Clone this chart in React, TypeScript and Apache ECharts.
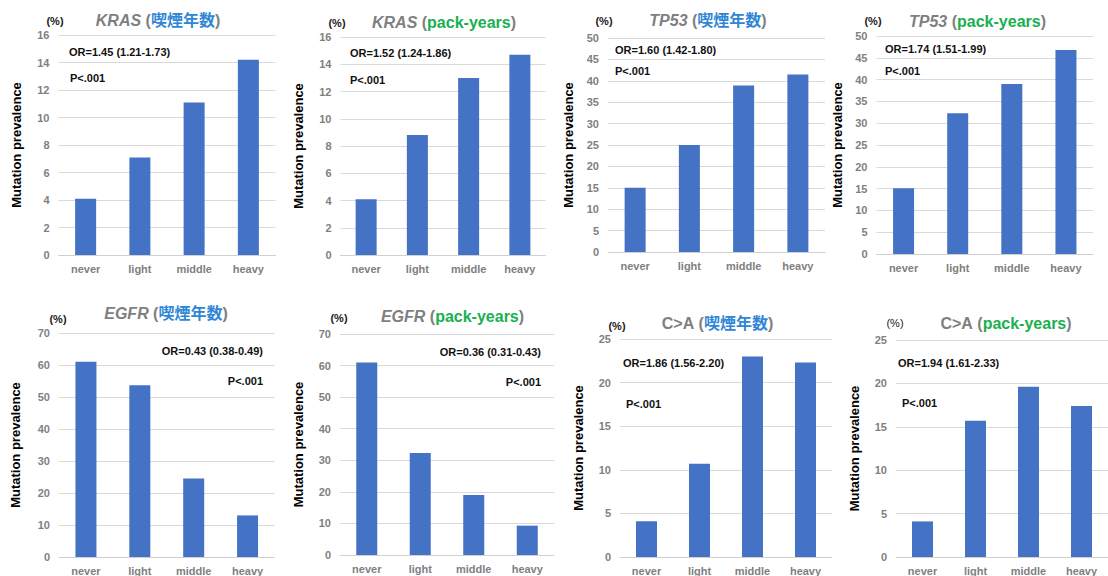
import React, { useEffect, useRef } from "react";
import * as echarts from "echarts";

const categories = ["never", "light", "middle", "heavy"];

const krasYears = [4.1, 7.1, 11.1, 14.2];
const krasPack = [4.1, 8.8, 13.0, 14.7];
const tp53Years = [15.0, 25.0, 38.9, 41.5];
const tp53Pack = [15.1, 32.3, 39.0, 46.8];
const egfrYears = [61.0, 53.7, 24.5, 13.0];
const egfrPack = [61.0, 32.3, 19.0, 9.3];
const caYears = [4.1, 10.7, 23.0, 22.3];
const caPack = [4.1, 15.7, 19.6, 17.4];

const genes = ["KRAS", "KRAS", "TP53", "TP53", "EGFR", "EGFR", "C>A", "C>A"];
const measures = ["喫煙年数", "pack-years", "喫煙年数", "pack-years", "喫煙年数", "pack-years", "喫煙年数", "pack-years"];
const orTexts = [
  "OR=1.45 (1.21-1.73)",
  "OR=1.52 (1.24-1.86)",
  "OR=1.60 (1.42-1.80)",
  "OR=1.74 (1.51-1.99)",
  "OR=0.43 (0.38-0.49)",
  "OR=0.36 (0.31-0.43)",
  "OR=1.86 (1.56-2.20)",
  "OR=1.94 (1.61-2.33)",
];
const pText = "P<.001";
const yMax = [16, 16, 50, 50, 70, 70, 25, 25];
const yInterval = [2, 2, 5, 5, 10, 10, 5, 5];
const yName = "Mutation prevalence";
const unitText = "(%)";

const seriesData = [krasYears, krasPack, tp53Years, tp53Pack, egfrYears, egfrPack, caYears, caPack];

// layout (pixels)
const grids = [
  { left: 58.5, top: 35, width: 217, height: 220 },
  { left: 340.5, top: 37, width: 205, height: 218 },
  { left: 608, top: 38, width: 217, height: 214 },
  { left: 876.5, top: 36, width: 216.5, height: 218 },
  { left: 59, top: 333, width: 215.5, height: 224 },
  { left: 340, top: 334, width: 214, height: 221 },
  { left: 620, top: 339, width: 212, height: 218 },
  { left: 896, top: 340, width: 217, height: 217 },
];
const titlePos = [
  [158, 20], [444, 22], [708, 20], [977.5, 21],
  [166, 313], [452.5, 316], [717.5, 323], [1006, 323],
];
const unitPos = [
  [55, 21], [337, 23], [604, 21], [873, 21],
  [58, 319], [339, 318], [617, 326], [895, 323],
];
// [x, y, align]
const orPos: [number, number, string][] = [
  [69, 52, "left"], [350, 53, "left"], [615, 50, "left"], [885, 49, "left"],
  [263, 351, "right"], [541, 352, "right"], [623, 363, "left"], [898, 363, "left"],
];
const pPos: [number, number, string][] = [
  [70, 78, "left"], [350, 80, "left"], [615, 71, "left"], [885, 71, "left"],
  [263, 381, "right"], [541, 382, "right"], [626, 404, "left"], [902, 403, "left"],
];
const nameGaps = [36, 36, 33, 33, 37, 35, 35, 35];

const FONT = "'Liberation Sans', Arial, 'Noto Sans CJK JP', sans-serif";
const BAR = "#4472C4";
const GREY = "#7f7f7f";
const BLUE = "#2f86d6";
const GREEN = "#19b04f";

export default function App() {
  const ref = useRef<HTMLDivElement>(null);
  useEffect(() => {
    if (!ref.current) return;
    const chart = echarts.init(ref.current, null, { renderer: "svg" });

    const xAxis = grids.map((_, i) => ({
      type: "category",
      gridIndex: i,
      data: categories,
      axisTick: { show: false },
      axisLine: { show: true, lineStyle: { color: "#d0d0d0", width: 1 } },
      axisLabel: { color: GREY, fontWeight: "bold", fontSize: 11, fontFamily: FONT, margin: 8 },
    }));
    const yAxis = grids.map((_, i) => ({
      type: "value",
      gridIndex: i,
      min: 0,
      max: yMax[i],
      interval: yInterval[i],
      name: yName,
      nameLocation: "middle",
      nameRotate: 90,
      nameGap: nameGaps[i],
      nameTextStyle: { color: "#000", fontWeight: "bold", fontSize: 13, fontFamily: FONT },
      axisLine: { show: false },
      axisTick: { show: false },
      axisLabel: { color: GREY, fontWeight: "bold", fontSize: 11, fontFamily: FONT, margin: 9 },
      splitLine: { lineStyle: { color: "#d9d9d9", width: 1 } },
    }));
    const series = grids.map((_, i) => ({
      type: "bar",
      xAxisIndex: i,
      yAxisIndex: i,
      data: seriesData[i],
      barWidth: 21,
      itemStyle: { color: BAR },
    }));

    const graphics: any[] = [];
    for (let i = 0; i < 8; i++) {
      const isCA = genes[i] === "C>A";
      const mColor = measures[i] === "pack-years" ? GREEN : BLUE;
      graphics.push({
        type: "text",
        x: titlePos[i][0],
        y: titlePos[i][1],
        style: {
          text: `{g|${genes[i]}}{p| (}{m|${measures[i]}}{p|)}`,
          align: "center",
          verticalAlign: "middle",
          rich: {
            g: { fontFamily: FONT, fontSize: 16, fontWeight: "bold", fontStyle: isCA ? "normal" : "italic", fill: GREY, color: GREY },
            p: { fontFamily: FONT, fontSize: 16, fontWeight: "bold", fill: GREY, color: GREY },
            m: { fontFamily: FONT, fontSize: 16, fontWeight: "bold", fill: mColor, color: mColor },
          },
        },
      });
      graphics.push({
        type: "text",
        x: unitPos[i][0],
        y: unitPos[i][1],
        style: {
          text: unitText,
          align: "center",
          verticalAlign: "middle",
          font: `${i === 7 ? "normal" : "bold"} 11px ${FONT}`,
          fill: "#222",
        },
      });
      graphics.push({
        type: "text",
        x: orPos[i][0],
        y: orPos[i][1],
        style: {
          text: orTexts[i],
          align: orPos[i][2],
          verticalAlign: "middle",
          font: `bold 11px ${FONT}`,
          fill: "#111",
        },
      });
      graphics.push({
        type: "text",
        x: pPos[i][0],
        y: pPos[i][1],
        style: {
          text: pText,
          align: pPos[i][2],
          verticalAlign: "middle",
          font: `bold 11px ${FONT}`,
          fill: "#111",
        },
      });
    }

    chart.setOption({
      animation: false,
      backgroundColor: "#ffffff",
      grid: grids.map((g) => ({ ...g, containLabel: false })),
      xAxis,
      yAxis,
      series,
      graphic: graphics,
    });
    return () => chart.dispose();
  }, []);

  return (
    <div
      ref={ref}
      style={{ position: "fixed", left: 0, top: 0, width: 1108, height: 576, background: "#fff" }}
    />
  );
}
